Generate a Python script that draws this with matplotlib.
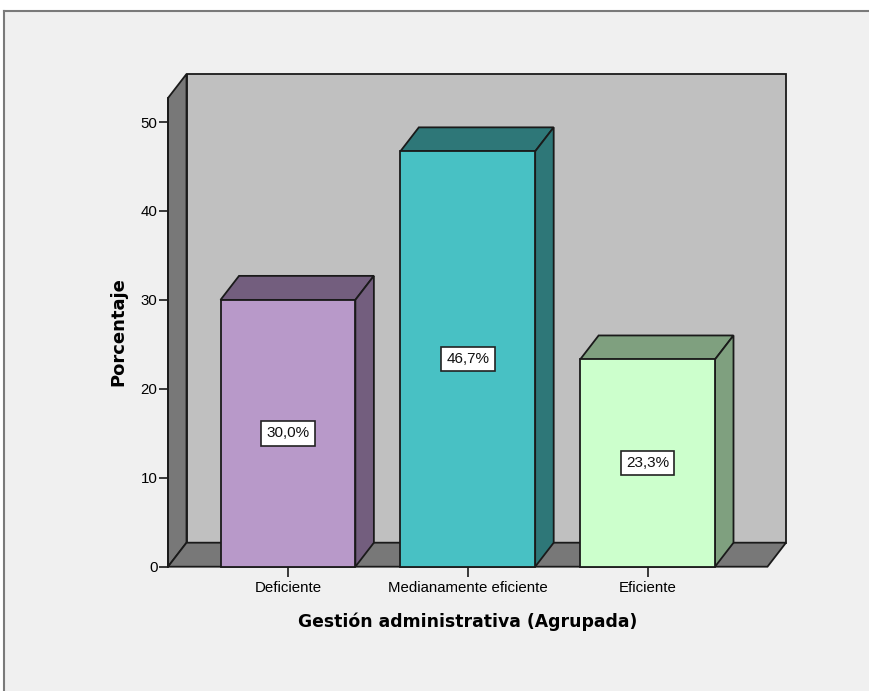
import matplotlib.pyplot as plt
from matplotlib.lines import Line2D
from matplotlib.patches import Polygon, Rectangle

categorias = ['Deficiente', 'Medianamente eficiente', 'Eficiente']
porcentajes = [30.0, 46.7, 23.3]
etiquetas = ['30,0%', '46,7%', '23,3%']
color_frente = ['#b899c9', '#48c1c4', '#ccffcc']
color_sombra = ['#735e7e', '#2e7778', '#7fa07f']

y_max = 52.7
x_ini, x_fin = -0.667, 2.667
dx, dy = 0.103, 2.7      # desplazamiento de profundidad
ancho = 0.75

fig = plt.figure(figsize=(8.7, 6.91), dpi=100, facecolor='#f0f0f0')

# marco del visor: franjas blancas arriba e izquierda con su borde gris
tope = 1 - 11 / 691
izq = 4.5 / 870
fig.patches.append(Rectangle((0, tope), 1, 1 - tope, transform=fig.transFigure,
                             fc='white', ec='none', zorder=-5))
fig.patches.append(Rectangle((0, 0), izq, 1, transform=fig.transFigure,
                             fc='white', ec='none', zorder=-5))
fig.lines.append(Line2D([izq, 1], [tope, tope], transform=fig.transFigure,
                        color='#7a7a7a', lw=1.5))
fig.lines.append(Line2D([izq, izq], [0, tope], transform=fig.transFigure,
                        color='#7a7a7a', lw=1.5))

ax = fig.add_axes([168 / 870, (691 - 566.7) / 691, 618 / 870, 492.7 / 691])
ax.set_facecolor('none')
ax.set_xlim(x_ini, x_fin + dx)
ax.set_ylim(0, y_max + dy)
for s in ax.spines.values():
    s.set_visible(False)

borde = dict(ec='#1a1a1a', lw=1.3, joinstyle='miter', clip_on=False)

# pared del fondo, pared izquierda y piso
ax.add_patch(Polygon([(x_ini + dx, dy), (x_fin + dx, dy), (x_fin + dx, y_max + dy),
                      (x_ini + dx, y_max + dy)], fc='#c0c0c0', **borde))
ax.add_patch(Polygon([(x_ini, 0), (x_ini + dx, dy), (x_ini + dx, y_max + dy),
                      (x_ini, y_max)], fc='#787878', **borde))
ax.add_patch(Polygon([(x_ini, 0), (x_fin, 0), (x_fin + dx, dy), (x_ini + dx, dy)],
                     fc='#787878', **borde))

for i, v in enumerate(porcentajes):
    x0, x1 = i - ancho / 2, i + ancho / 2
    ax.add_patch(Polygon([(x0, v), (x0 + dx, v + dy), (x1 + dx, v + dy), (x1, v)],
                         fc=color_sombra[i], **borde))
    ax.add_patch(Polygon([(x1, 0), (x1 + dx, dy), (x1 + dx, v + dy), (x1, v)],
                         fc=color_sombra[i], **borde))
    ax.add_patch(Polygon([(x0, 0), (x1, 0), (x1, v), (x0, v)],
                         fc=color_frente[i], **borde))
    ax.text(i, v / 2, etiquetas[i], ha='center', va='center', fontsize=11,
            family='Liberation Sans', color='#111111',
            bbox=dict(boxstyle='square,pad=0.35', fc='white', ec='#222222', lw=1.2))

# eje vertical
ax.plot([x_ini, x_ini], [0, y_max], color='#1a1a1a', lw=1.3, clip_on=False)

ax.set_xticks(range(len(categorias)))
ax.set_xticklabels(categorias, family='Liberation Sans', fontsize=10.8)
ax.set_yticks([0, 10, 20, 30, 40, 50])
ax.set_yticklabels(['0', '10', '20', '30', '40', '50'], family='Liberation Sans',
                   fontsize=10.8)
ax.tick_params(axis='y', length=6.5, width=1.2, pad=1, color='#1a1a1a')
ax.tick_params(axis='x', length=7.5, width=1.2, pad=2.5, color='#1a1a1a')

ax.set_xlabel('Gestión administrativa (Agrupada)', family='DejaVu Sans',
              fontweight='bold', fontsize=12.4)
ax.set_ylabel('Porcentaje', family='DejaVu Sans', fontweight='bold',
              fontsize=13)
ax.xaxis.set_label_coords((467.5 - 168) / 618, -(622 - 566.7) / 492.7)
ax.yaxis.set_label_coords((118 - 168) / 618, (566.7 - 332) / 492.7)
ax.xaxis.label.set_va('center')
ax.yaxis.label.set_va('center')

fig.savefig('out.png', dpi=100, facecolor=fig.get_facecolor())
